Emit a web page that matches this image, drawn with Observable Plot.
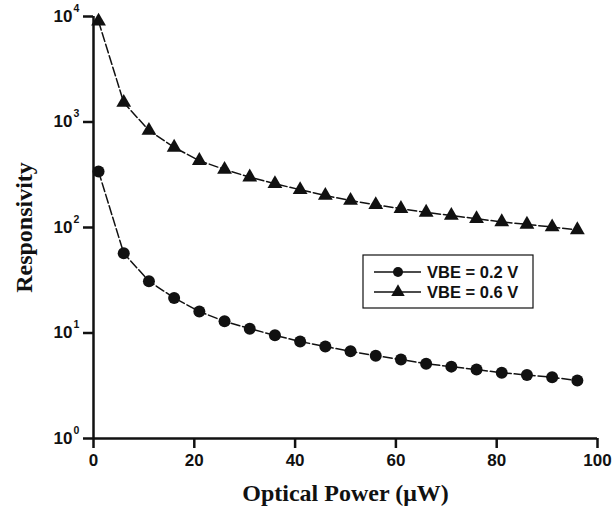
<!DOCTYPE html>
<html>
<head>
<meta charset="utf-8">
<script src="https://cdn.jsdelivr.net/npm/d3@7"></script>
<script src="https://cdn.jsdelivr.net/npm/@observablehq/plot@0.6"></script>
<style>
  html, body { margin: 0; padding: 0; background: #fff; }
  #chart { position: relative; width: 613px; height: 518px; }
  svg { font-family: "Liberation Sans", Arial, sans-serif; }
  svg g[aria-label="x-axis tick label"] text { font-weight: bold; }
</style>
</head>
<body>
<div id="chart"></div>
<script>
// Data
const power = [1, 6, 11, 16, 21, 26, 31, 36, 41, 46, 51, 56, 61, 66, 71, 76, 81, 86, 91, 96];
const vbe02 = [340, 57, 31, 21.5, 16, 12.9, 11, 9.5, 8.3, 7.45, 6.7, 6.1, 5.6, 5.1, 4.8, 4.5, 4.2, 4.0, 3.8, 3.55];
const vbe06 = [9000, 1530, 830, 575, 430, 355, 300, 260, 228, 201, 180, 164, 151, 139, 130, 121, 113, 107, 101, 95];
const seriesNames = ["VBE = 0.2 V", "VBE = 0.6 V"];
const seriesSymbols = ["circle", "triangle"];
const xTicks = [0, 20, 40, 60, 80, 100];
const yTicks = [1, 10, 100, 1000, 10000];
const xTitle = "Optical Power (\u03bcW)";
const yTitle = "Responsivity";

const rows = [];
power.forEach((p, i) => {
  rows.push({power: p, value: vbe02[i], series: seriesNames[0]});
  rows.push({power: p, value: vbe06[i], series: seriesNames[1]});
});

const ink = "#111";
const serif = "'Liberation Serif', 'Times New Roman', serif";

const chart = Plot.plot({
  width: 613,
  height: 518,
  marginLeft: 93,
  marginRight: 16,
  marginTop: 16,
  marginBottom: 80,
  style: {background: "#fff", color: ink, overflow: "visible"},
  x: {domain: [0, 100], axis: null},
  y: {type: "log", domain: [1, 10000], axis: null},
  symbol: {domain: seriesNames, range: seriesSymbols},
  marks: [
    Plot.line(rows, {x: "power", y: "value", z: "series", stroke: ink, strokeWidth: 1.5, strokeDasharray: "9,3"}),
    Plot.dot(rows.filter(d => d.series === seriesNames[0]), {x: "power", y: "value", symbol: "series", r: 6, fill: ink, stroke: "none"}),
    Plot.dot(rows.filter(d => d.series === seriesNames[1]), {x: "power", y: "value", symbol: "series", r: 5.5, fill: ink, stroke: "none"}),
    Plot.ruleX([0], {stroke: ink, strokeWidth: 2.5}),
    Plot.ruleY([1], {stroke: ink, strokeWidth: 2.5}),
    Plot.axisX(xTicks, {tickSize: 10, tickPadding: 5, strokeWidth: 2.5, stroke: ink, fill: ink, fontSize: 17, fontWeight: "bold", label: null}),
    Plot.axisY(yTicks, {tickSize: 10, strokeWidth: 2.5, stroke: ink, tickFormat: () => "", label: null}),
    Plot.text(yTicks, {y: d => d, text: () => "10", frameAnchor: "left", dx: -21, textAnchor: "end", fontSize: 17, fontWeight: "bold", fill: ink}),
    Plot.text(yTicks, {y: d => d, text: d => String(Math.round(Math.log10(d))), frameAnchor: "left", dx: -20, dy: -8, textAnchor: "start", fontSize: 10.5, fontWeight: "bold", fill: ink}),
    Plot.text([yTitle], {frameAnchor: "left", dx: -69, rotate: -90, textAnchor: "middle", fontSize: 24, fontWeight: "bold", fontFamily: serif, fill: ink}),
    Plot.text([xTitle], {frameAnchor: "bottom", dy: 62, textAnchor: "middle", fontSize: 24, fontWeight: "bold", fontFamily: serif, fill: ink})
  ]
});

document.getElementById("chart").appendChild(chart);

// Legend box inside the plot
const svg = d3.select(chart);
const lg = svg.append("g").attr("transform", "translate(363,255)");
lg.append("rect").attr("width", 170).attr("height", 53).attr("fill", "#fff").attr("stroke", ink).attr("stroke-width", 1.2);
seriesNames.forEach((name, i) => {
  const cy = 17 + i * 20;
  lg.append("line").attr("x1", 11).attr("x2", 58).attr("y1", cy).attr("y2", cy).attr("stroke", ink).attr("stroke-width", 1.5);
  const sym = i === 0 ? d3.symbolCircle : d3.symbolTriangle;
  lg.append("path").attr("d", d3.symbol(sym, Math.PI * 25)()).attr("transform", `translate(35,${cy})`).attr("fill", ink);
  lg.append("text").attr("x", 64).attr("y", cy).attr("dy", "0.35em").attr("text-anchor", "start")
    .attr("font-size", 16.5).attr("font-weight", "bold").attr("fill", ink).text(name);
});
</script>
</body>
</html>
